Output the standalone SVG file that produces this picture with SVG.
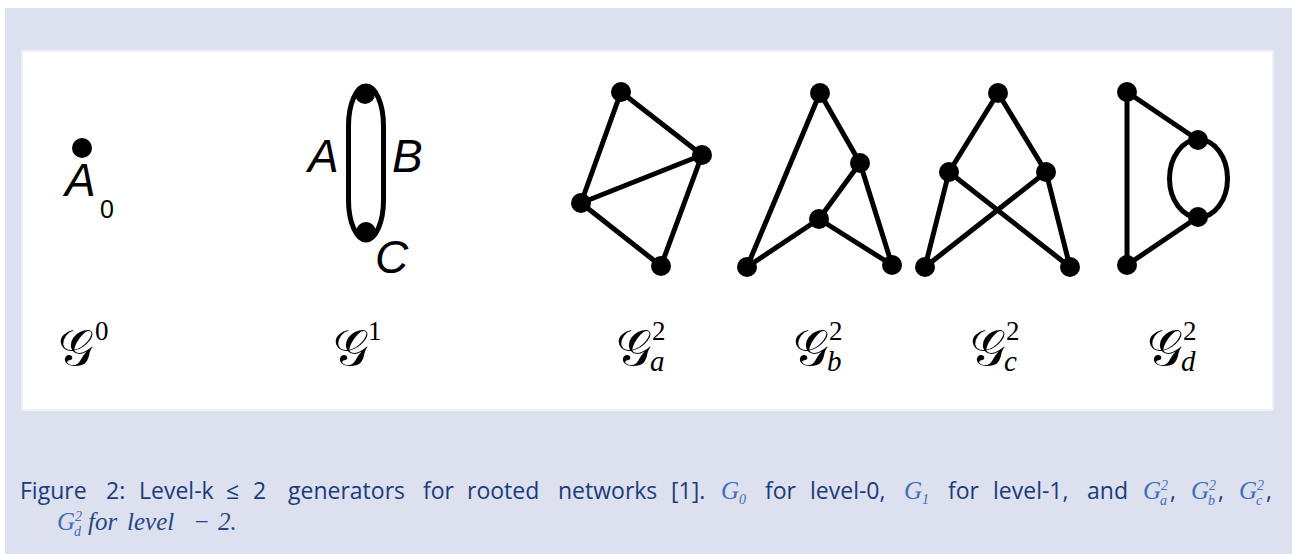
<svg xmlns="http://www.w3.org/2000/svg" width="1292" height="554" viewBox="0 0 1292 554">
<style>
.e{stroke:#000;stroke-width:5;fill:none;stroke-linecap:round}
.n{fill:#000}
.lbl{font-family:"Liberation Sans",Arial,sans-serif;font-style:italic;font-size:46px;fill:#000}
.sub0{font-family:"Liberation Sans",Arial,sans-serif;font-size:25px;fill:#000}
.cal{font-family:"DejaVu Serif","DejaVu Sans",serif;font-size:50px;fill:#000}
.sup{font-family:"Liberation Serif",serif;font-size:27px;fill:#000}
.sb{font-family:"Liberation Serif",serif;font-style:italic;font-size:29px;fill:#000}
.cap{font-family:"Open Sans","Noto Sans",sans-serif;font-size:23px;fill:#1a3c7a}
.m{font-family:"Liberation Serif",serif;font-style:italic;font-size:25px;fill:#3e6fb8}
.ms{font-family:"Liberation Serif",serif;font-size:14px;fill:#3e6fb8}
.m2{font-family:"Liberation Serif",serif;font-style:italic;font-size:25px;fill:#24477f}
</style>
<rect x="0" y="0" width="1292" height="554" fill="#ffffff"/>
<rect x="5" y="8" width="1287" height="546" fill="#dde0ef"/>
<rect x="22" y="51" width="1251" height="359" fill="#ffffff" stroke="#eef0f7" stroke-width="2"/>

<g id="connectors">
  <rect class="e" x="348.5" y="86" width="35" height="154" rx="17.5" ry="40"/>
  <line class="e" x1="621" y1="92" x2="702" y2="155"/>
  <line class="e" x1="621" y1="92" x2="581" y2="203"/>
  <line class="e" x1="702" y1="155" x2="581" y2="203"/>
  <line class="e" x1="581" y1="203" x2="661" y2="266"/>
  <line class="e" x1="661" y1="266" x2="702" y2="155"/>
  <line class="e" x1="820" y1="93" x2="747" y2="267"/>
  <line class="e" x1="820" y1="93" x2="860" y2="163"/>
  <line class="e" x1="860" y1="163" x2="819" y2="219"/>
  <line class="e" x1="860" y1="163" x2="892" y2="265"/>
  <line class="e" x1="819" y1="219" x2="747" y2="267"/>
  <line class="e" x1="819" y1="219" x2="892" y2="265"/>
  <line class="e" x1="998" y1="93" x2="949" y2="172"/>
  <line class="e" x1="998" y1="93" x2="1046" y2="172"/>
  <line class="e" x1="949" y1="172" x2="925" y2="267"/>
  <line class="e" x1="949" y1="172" x2="1070" y2="267"/>
  <line class="e" x1="1046" y1="172" x2="925" y2="267"/>
  <line class="e" x1="1046" y1="172" x2="1070" y2="267"/>
  <line class="e" x1="1127" y1="92" x2="1127" y2="265"/>
  <line class="e" x1="1127" y1="92" x2="1198" y2="140"/>
  <line class="e" x1="1127" y1="265" x2="1198" y2="217"/>
  <ellipse class="e" cx="1198.5" cy="178.5" rx="29" ry="39"/>
</g>

<g id="g0">
  <circle class="n" cx="82" cy="148" r="10"/>
  <text class="lbl" x="65" y="196">A</text>
  <text class="sub0" x="100" y="218">0</text>
  <text class="cal" x="58" y="365">𝒢</text><text class="sup" x="95" y="340">0</text>
</g>
<g id="g1">
  <circle class="n" cx="365" cy="94" r="10"/>
  <circle class="n" cx="366" cy="232" r="10"/>
  <text class="lbl" x="308" y="172">A</text>
  <text class="lbl" x="392" y="172">B</text>
  <text class="lbl" x="375" y="273">C</text>
  <text class="cal" x="333" y="365">𝒢</text><text class="sup" x="368" y="340">1</text>
</g>
<g id="g2a">
  <circle class="n" cx="621" cy="92" r="10"/>
  <circle class="n" cx="702" cy="155" r="10"/>
  <circle class="n" cx="581" cy="203" r="10"/>
  <circle class="n" cx="661" cy="266" r="10"/>
  <text class="cal" x="616" y="365">𝒢</text><text class="sup" x="652" y="340">2</text><text class="sb" x="650" y="371">a</text>
</g>
<g id="g2b">
  <circle class="n" cx="820" cy="93" r="10"/>
  <circle class="n" cx="860" cy="163" r="10"/>
  <circle class="n" cx="819" cy="219" r="10"/>
  <circle class="n" cx="747" cy="267" r="10"/>
  <circle class="n" cx="892" cy="265" r="10"/>
  <text class="cal" x="793" y="365">𝒢</text><text class="sup" x="829" y="340">2</text><text class="sb" x="827" y="371">b</text>
</g>
<g id="g2c">
  <circle class="n" cx="998" cy="93" r="10"/>
  <circle class="n" cx="949" cy="172" r="10"/>
  <circle class="n" cx="1046" cy="172" r="10"/>
  <circle class="n" cx="925" cy="267" r="10"/>
  <circle class="n" cx="1070" cy="267" r="10"/>
  <text class="cal" x="970" y="365">𝒢</text><text class="sup" x="1006" y="340">2</text><text class="sb" x="1004" y="371">c</text>
</g>
<g id="g2d">
  <circle class="n" cx="1127" cy="92" r="10"/>
  <circle class="n" cx="1198" cy="140" r="10"/>
  <circle class="n" cx="1198" cy="217" r="10"/>
  <circle class="n" cx="1127" cy="265" r="10"/>
  <text class="cal" x="1147" y="365">𝒢</text><text class="sup" x="1183" y="340">2</text><text class="sb" x="1181" y="371">d</text>
</g>

<g id="caption">
  <text class="cap" y="499"><tspan x="20">Figure</tspan><tspan x="106">2:</tspan><tspan x="139">Level-k</tspan><tspan x="226">≤</tspan><tspan x="253">2</tspan><tspan x="288">generators</tspan><tspan x="423">for</tspan><tspan x="467">rooted</tspan><tspan x="558">networks</tspan><tspan x="671">[1].</tspan><tspan x="765">for</tspan><tspan x="810">level-0,</tspan><tspan x="948">for</tspan><tspan x="993">level-1,</tspan><tspan x="1087">and</tspan><tspan x="1170">,</tspan><tspan x="1218">,</tspan><tspan x="1266">,</tspan></text>
  <text class="m" x="721" y="499">G<tspan class="ms" dy="5">0</tspan></text>
  <text class="m" x="904" y="499">G<tspan class="ms" dy="5">1</tspan></text>
  <text class="m" x="1143" y="499">G<tspan class="ms" dy="-9">2</tspan><tspan class="ms" x="1160" dy="15" font-style="italic">a</tspan></text>
  <text class="m" x="1191" y="499">G<tspan class="ms" dy="-9">2</tspan><tspan class="ms" x="1208" dy="15" font-style="italic">b</tspan></text>
  <text class="m" x="1239" y="499">G<tspan class="ms" dy="-9">2</tspan><tspan class="ms" x="1256" dy="15" font-style="italic">c</tspan></text>
  <text class="m" x="57" y="530">G<tspan class="ms" dy="-9">2</tspan><tspan class="ms" x="74" dy="15" font-style="italic">d</tspan></text>
  <text class="m2" y="530"><tspan x="88">for</tspan><tspan x="127">level</tspan><tspan x="193">−</tspan><tspan x="218">2.</tspan></text>
</g>
</svg>
